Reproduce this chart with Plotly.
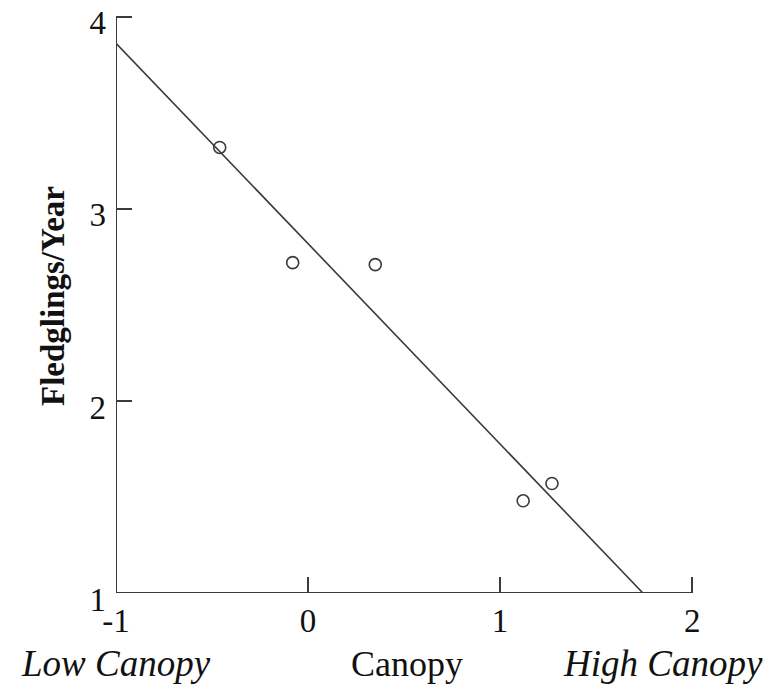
import numpy as np
import plotly.graph_objects as go

# Data
canopy = [-0.46, -0.08, 0.35, 1.12, 1.27]
fledglings = [3.32, 2.72, 2.71, 1.48, 1.57]

x_ticks = [-1, 0, 1, 2]
y_ticks = [1, 2, 3, 4]

# Least-squares fit line through the points, drawn from x=-1 to where it meets y=1
slope, intercept = np.polyfit(canopy, fledglings, 1)
x_start = -1.0
x_end = (1.0 - intercept) / slope
line_x = [x_start, x_end]
line_y = [slope * x_start + intercept, slope * x_end + intercept]

ink = "#3a3a3a"
font_family = "Liberation Serif"

W, H = 775, 690
L, R, T, B = 116, 79, 13, 97
PW, PH = W - L - R, H - T - B


def px_x(p):
    return (p - L) / PW


def px_y(p):
    return (H - B - p) / PH


fig = go.Figure()
fig.add_trace(go.Scatter(x=line_x, y=line_y, mode="lines",
                         line=dict(color=ink, width=1.6), showlegend=False,
                         hoverinfo="skip"))
fig.add_trace(go.Scatter(x=canopy, y=fledglings, mode="markers",
                         marker=dict(symbol="circle-open", size=12,
                                     color=ink, line=dict(width=1.6)),
                         showlegend=False))

fig.update_layout(
    width=W, height=H,
    margin=dict(l=L, r=R, t=T, b=B),
    plot_bgcolor="white", paper_bgcolor="white",
    font=dict(family=font_family, size=33, color="#111"),
    xaxis=dict(range=[-1, 2.02], tickvals=x_ticks, ticktext=[str(v) for v in x_ticks],
               showline=False,
               ticks="inside", ticklen=16, tickwidth=2, tickcolor=ink,
               showgrid=False, zeroline=False, ticklabelstandoff=5,
               ticklabeloverflow="allow", automargin=False),
    yaxis=dict(range=[1, 4.02], tickvals=y_ticks, ticktext=[str(v) for v in y_ticks],
               showline=False,
               ticks="inside", ticklen=16, tickwidth=2, tickcolor=ink,
               showgrid=False, zeroline=False, ticklabelstandoff=9,
               ticklabelshift=6, ticklabeloverflow="allow", automargin=False),
    shapes=[
        # axis lines spanning exactly the tick range
        dict(type="line", xref="x", yref="y", x0=x_ticks[0], x1=x_ticks[-1],
             y0=y_ticks[0], y1=y_ticks[0], line=dict(color=ink, width=2)),
        dict(type="line", xref="x", yref="y", x0=x_ticks[0], x1=x_ticks[0],
             y0=y_ticks[0], y1=y_ticks[-1], line=dict(color=ink, width=2)),
    ],
    annotations=[
        dict(text="<i>Low Canopy</i>", x=px_x(116), y=px_y(663), xref="paper", yref="paper",
             showarrow=False, xanchor="center", yanchor="middle",
             font=dict(size=37)),
        dict(text="Canopy", x=px_x(407), y=px_y(664), xref="paper", yref="paper",
             showarrow=False, xanchor="center", yanchor="middle",
             font=dict(size=36)),
        dict(text="<i>High Canopy</i>", x=px_x(663), y=px_y(663), xref="paper", yref="paper",
             showarrow=False, xanchor="center", yanchor="middle",
             font=dict(size=37)),
        dict(text="<b>Fledglings/Year</b>", x=px_x(53), y=px_y(296),
             xref="paper", yref="paper", showarrow=False, textangle=-90,
             xanchor="center", yanchor="middle", font=dict(size=33)),
    ],
)

fig.write_html("out.html")
